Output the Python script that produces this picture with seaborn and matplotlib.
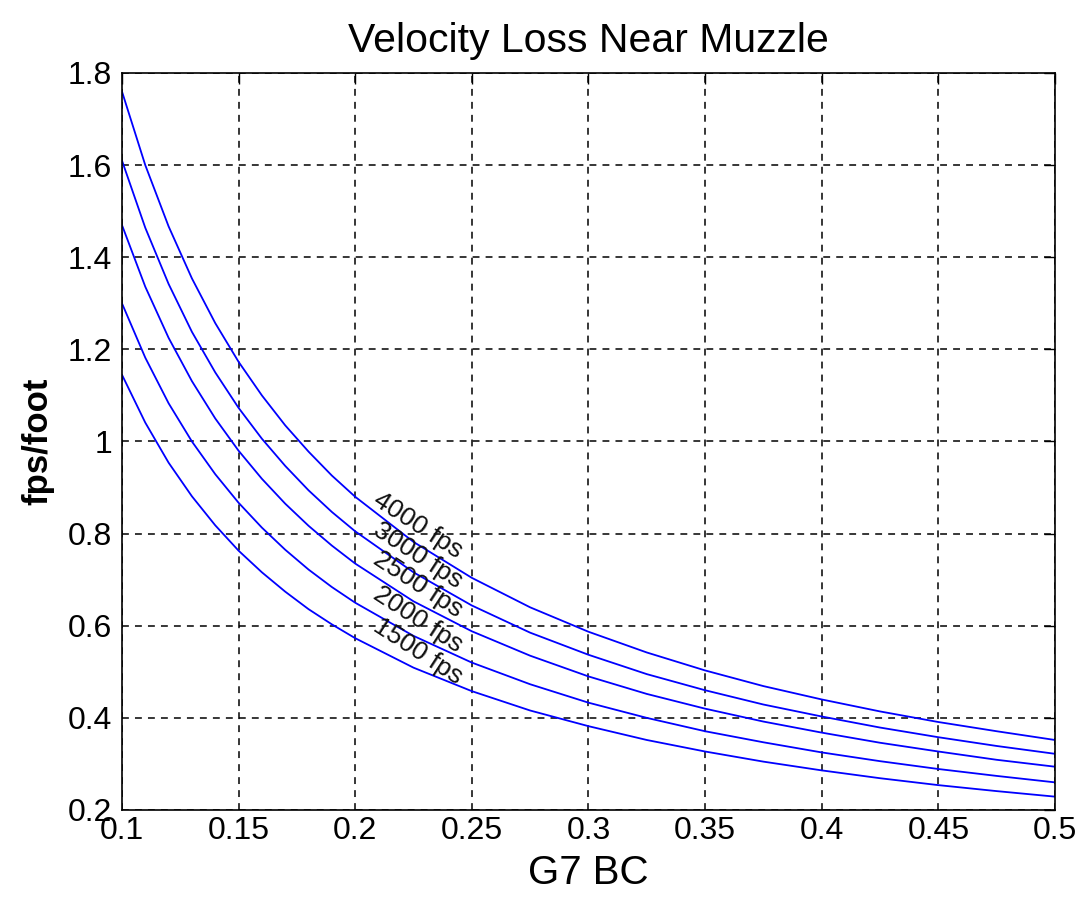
import numpy as np
import pandas as pd
import seaborn as sns
import matplotlib
matplotlib.use("Agg")
import matplotlib.pyplot as plt

# G7 ballistic coefficient values (x axis)
bc = [0.10, 0.11, 0.12, 0.13, 0.14, 0.15, 0.16, 0.17, 0.18, 0.19, 0.20,
      0.225, 0.25, 0.275, 0.30, 0.325, 0.35, 0.375, 0.40, 0.425, 0.45, 0.475, 0.50]

# velocity loss (fps/foot), one list per muzzle velocity
loss_4000 = [1.760, 1.600, 1.467, 1.354, 1.257, 1.173, 1.100, 1.035, 0.978, 0.926, 0.880,
             0.782, 0.704, 0.640, 0.587, 0.542, 0.503, 0.469, 0.440, 0.414, 0.391, 0.371, 0.352]
loss_3000 = [1.610, 1.464, 1.342, 1.238, 1.150, 1.073, 1.006, 0.947, 0.894, 0.847, 0.805,
             0.716, 0.644, 0.585, 0.537, 0.495, 0.460, 0.429, 0.403, 0.379, 0.358, 0.339, 0.322]
loss_2500 = [1.470, 1.336, 1.225, 1.131, 1.050, 0.980, 0.919, 0.865, 0.817, 0.774, 0.735,
             0.653, 0.588, 0.535, 0.490, 0.452, 0.420, 0.392, 0.368, 0.346, 0.327, 0.309, 0.294]
loss_2000 = [1.300, 1.182, 1.083, 1.000, 0.929, 0.867, 0.813, 0.765, 0.722, 0.684, 0.650,
             0.578, 0.520, 0.473, 0.433, 0.400, 0.371, 0.347, 0.325, 0.306, 0.289, 0.274, 0.260]
loss_1500 = [1.145, 1.041, 0.954, 0.881, 0.818, 0.763, 0.716, 0.674, 0.636, 0.603, 0.573,
             0.509, 0.458, 0.416, 0.382, 0.352, 0.327, 0.305, 0.286, 0.269, 0.254, 0.241, 0.229]

series_names = ["4000 fps", "3000 fps", "2500 fps", "2000 fps", "1500 fps"]
series_values = [loss_4000, loss_3000, loss_2500, loss_2000, loss_1500]

x_ticks = [0.1, 0.15, 0.2, 0.25, 0.3, 0.35, 0.4, 0.45, 0.5]
x_tick_labels = ["0.1", "0.15", "0.2", "0.25", "0.3", "0.35", "0.4", "0.45", "0.5"]
y_ticks = [0.2, 0.4, 0.6, 0.8, 1.0, 1.2, 1.4, 1.6, 1.8]
y_tick_labels = ["0.2", "0.4", "0.6", "0.8", "1", "1.2", "1.4", "1.6", "1.8"]

# long-form table for seaborn
df = pd.concat(
    [pd.DataFrame({"bc": bc, "loss": vals, "vel": name})
     for name, vals in zip(series_names, series_values)],
    ignore_index=True,
)

sns.set_style("white")
plt.rcParams["font.family"] = ["Liberation Sans", "DejaVu Sans"]
plt.rcParams["text.color"] = "black"
plt.rcParams["axes.labelcolor"] = "black"

fig = plt.figure(figsize=(10.84, 8.99), dpi=100)
ax = fig.add_axes([0.1125, 0.099, 0.8607, 0.8198])

sns.lineplot(data=df, x="bc", y="loss", hue="vel", hue_order=series_names,
             palette=["#0000ff"] * 5, linewidth=1.3, legend=False,
             estimator=None, sort=False, ax=ax)

# contour-style labels sitting on the curves
label_x = 0.225
for name, vals in zip(series_names, series_values):
    y_at = np.interp(label_x, bc, vals)
    ax.annotate(name, xy=(label_x, y_at), xytext=(3, 12), textcoords="offset points",
                ha="center", va="center", rotation=-33, fontsize=19, color="#111111")

ax.set_xlim(0.1, 0.5)
ax.set_ylim(0.2, 1.8)
ax.set_xticks(x_ticks)
ax.set_xticklabels(x_tick_labels)
ax.set_yticks(y_ticks)
ax.set_yticklabels(y_tick_labels)

ax.grid(True, color="black", linestyle=(0, (4.5, 4)), linewidth=1.1)
ax.tick_params(direction="in", length=8, width=1, top=True, right=True,
               labelsize=23, colors="black")
ax.tick_params(axis="x", pad=4)
ax.tick_params(axis="y", pad=7)
for sp in ax.spines.values():
    sp.set_color("black")
    sp.set_linewidth(1.2)
    sp.set_visible(True)

ax.set_title("Velocity Loss Near Muzzle", fontsize=29.5, pad=15, color="black")
ax.set_xlabel("G7 BC", fontsize=29, labelpad=6)
ax.set_ylabel("fps/foot", fontsize=25, fontweight="bold", labelpad=10)

fig.savefig("out.png", dpi=100)
